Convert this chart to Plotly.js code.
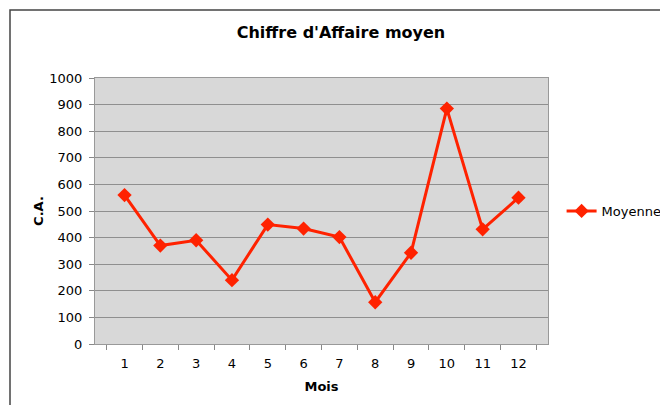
<!DOCTYPE html>
<html><head><meta charset="utf-8">
<script src="https://cdn.plot.ly/plotly-3.0.1.min.js"></script>
<style>html,body{margin:0;padding:0;background:#fff;}#chart{width:660px;height:405px;}</style>
</head><body><div id="chart"></div>
<script>
const months = ['1','2','3','4','5','6','7','8','9','10','11','12'];
const moyenne = [560, 370, 390, 240, 449, 434, 402, 157, 343, 885, 431, 550];
const seriesName = 'Moyenne';
const chartTitle = "Chiffre d'Affaire moyen";
const xTitle = 'Mois';
const yTitle = 'C.A.';

const F = 'Verdana, "DejaVu Sans", sans-serif';
const trace = {
  x: months, y: moyenne, name: seriesName, type: 'scatter', mode: 'lines+markers',
  line: {color: '#ff2200', width: 3},
  marker: {symbol: 'diamond', size: 11, color: '#ff2200'}
};
const L = 95, R = 548, T = 78, B = 344;
const W = R - L, H = B - T;
const layout = {
  width: 660, height: 405,
  margin: {l: L, r: 660 - R, t: T, b: 405 - B, autoexpand: false},
  paper_bgcolor: '#ffffff', plot_bgcolor: '#d8d8d8',
  font: {family: F, size: 13, color: '#000'},
  title: {text: '<b>' + chartTitle + '</b>', font: {family: F, size: 16, color: '#000'}, x: 341/660, xanchor: 'center', y: 1 - 32/405, yanchor: 'middle'},
  xaxis: {type: 'category', tickson: 'boundaries', ticks: 'outside', ticklen: 5, tickcolor: '#888',
    showline: true, linecolor: '#999', linewidth: 1, mirror: true, showgrid: false, ticklabelstandoff: 7,
    tickfont: {family: F, size: 13}, title: {text: '<b>' + xTitle + '</b>', font: {family: F, size: 13}, standoff: 12}},
  yaxis: {range: [0, 1000], dtick: 100, ticks: 'outside', ticklen: 5, tickcolor: '#888',
    showline: true, linecolor: '#999', linewidth: 1, mirror: true, ticklabelstandoff: 4,
    showgrid: true, gridcolor: '#8f8f8f', gridwidth: 1, zeroline: false,
    tickfont: {family: F, size: 13}, title: {text: '<b>' + yTitle + '</b>', font: {family: F, size: 13}, standoff: 2}},
  showlegend: true,
  legend: {x: 1.03, xanchor: 'left', y: 0.5, yanchor: 'middle', font: {family: F, size: 13}, bgcolor: 'rgba(0,0,0,0)'},
  shapes: [{type: 'rect', xref: 'paper', yref: 'paper', x0: (10 - L)/W, x1: (700 - L)/W, y0: (B - 420)/H, y1: (B - 10)/H,
    line: {color: '#444', width: 1.5}, fillcolor: 'rgba(0,0,0,0)', layer: 'below'}]
};
Plotly.newPlot('chart', [trace], layout, {displayModeBar: false, staticPlot: true});
</script></body></html>
